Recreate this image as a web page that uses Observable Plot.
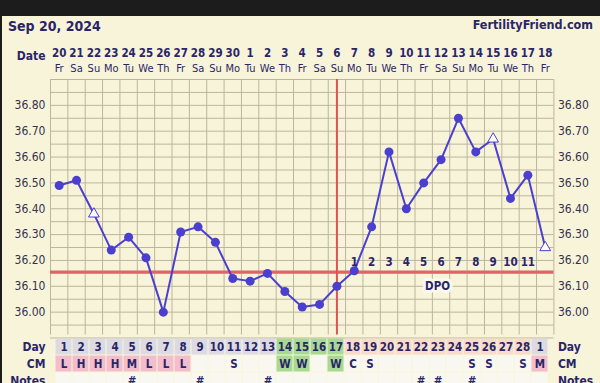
<!DOCTYPE html>
<html><head><meta charset="utf-8">
<script src="https://cdn.jsdelivr.net/npm/d3@7"></script>
<script src="https://cdn.jsdelivr.net/npm/@observablehq/plot@0.6"></script>
<style>
html,body{margin:0;padding:0;background:#1c1c1c;}
#wrap{position:relative;width:600px;height:383px;overflow:hidden;background:#f8f4da;font-family:"DejaVu Sans Condensed","DejaVu Sans",sans-serif;}
#band{position:absolute;left:0;top:0;width:600px;height:16px;background:#1c1c1c;}
#edge{position:absolute;left:0;top:0;width:2px;height:383px;background:#1c1c1c;}
.layer{position:absolute;left:0;top:0;}
#title{position:absolute;left:8px;top:19px;font-weight:bold;font-size:14px;line-height:14px;color:#2a2566;white-space:nowrap;}
#site{position:absolute;right:7px;top:19px;font-weight:bold;font-size:12.5px;line-height:12.5px;color:#2a2566;white-space:nowrap;}
</style></head>
<body>
<div id="wrap">
  <div id="title">Sep 20, 2024</div>
  <div id="site">FertilityFriend.com</div>
  <div id="main" class="layer"></div>
  <div id="table" class="layer"></div>
  <div id="band"></div>
  <div id="edge"></div>
</div>
<script>
// ---- data ----
const dates = [20,21,22,23,24,25,26,27,28,29,30,1,2,3,4,5,6,7,8,9,10,11,12,13,14,15,16,17,18];
const weekdays = ["Fr","Sa","Su","Mo","Tu","We","Th","Fr","Sa","Su","Mo","Tu","We","Th","Fr","Sa","Su","Mo","Tu","We","Th","Fr","Sa","Su","Mo","Tu","We","Th","Fr"];
const cycleDays = [1,2,3,4,5,6,7,8,9,10,11,12,13,14,15,16,17,18,19,20,21,22,23,24,25,26,27,28,1];
const temps = [36.49,36.51,36.38,36.24,36.29,36.21,36.00,36.31,36.33,36.27,36.13,36.12,36.15,36.08,36.02,36.03,36.10,36.16,36.33,36.62,36.40,36.50,36.59,36.75,36.62,36.67,36.44,36.53,36.25];
const discarded = [3,26,29];
const cm = ["L","H","H","H","M","L","L","L","","","S","","","W","W","","W","C","S","","","","","","S","S","","S","M"];
const notes = ["","","","","#","","","","#","","","","#","","","","","","","","","#","#","","#","","","",""];
const phase = ["g","g","g","g","g","g","g","g","g","g","g","g","g","f","f","f","f","l","l","l","l","l","l","l","l","l","l","l","g"];
const dpo = [1,2,3,4,5,6,7,8,9,10,11];
const dpoStart = 18;
const coverline = 36.155;
const ovulationDay = 17;
const yTicks = [36.0,36.1,36.2,36.3,36.4,36.5,36.6,36.7,36.8];
const rowNames = ["Day","CM","Notes"];

// ---- styles ----
const navy = "#2a2566";
const blue = "#4b3fcf";
const gridC = "#bcb59c";
const font = '"DejaVu Sans Condensed","DejaVu Sans",sans-serif';
const dayFill = {g:"#dcdbe4", f:"#a7d993", l:"#f8dccb"};
const cmFill = c => (c==="L"||c==="H"||c==="M") ? "#f3bdcb" : c==="W" ? "#a7d993" : "#f9f8f0";

const idx = d3.range(1, dates.length + 1);
const rows = idx.map((d,i) => ({i:d, date:String(dates[i]), wd:weekdays[i], temp:temps[i], disc:discarded.includes(d)}));
const dpoRows = dpo.map((n,k) => ({i:dpoStart+k, n:String(n)}));
const x0 = 0.5, x1 = dates.length + 0.5;
const yLo = 35.9, yHi = 36.9;

const main = Plot.plot({
  width:600, height:383,
  marginLeft:50, marginRight:46.6, marginTop:79, marginBottom:45.5,
  x:{domain:[x0,x1], axis:null},
  y:{domain:[yLo,yHi], axis:null},
  style:{background:"transparent", fontFamily:font, fontSize:"12px", color:navy, overflow:"visible"},
  marks:[
    Plot.ruleY(d3.range(0,21).map(k => yLo + k*0.05), {x1:x0, x2:x1, stroke:gridC, strokeWidth:1}),
    Plot.ruleX(d3.range(0, dates.length+1).map(k => x0 + k), {y1:yLo, y2:yHi, stroke:gridC, strokeWidth:1, insetTop:-3}),
    Plot.ruleY([coverline], {x1:x0, x2:x1, stroke:"#e06464", strokeWidth:3}),
    Plot.ruleX([ovulationDay], {y1:yLo, y2:yHi, stroke:"#e05252", strokeWidth:2, insetTop:-3}),
    Plot.line(rows, {x:"i", y:"temp", stroke:blue, strokeWidth:2}),
    Plot.dot(rows.filter(d => !d.disc), {x:"i", y:"temp", r:4.5, fill:blue}),
    Plot.dot(rows.filter(d => d.disc), {x:"i", y:"temp", symbol:"triangle", r:4, fill:"#ffffff", stroke:blue, strokeWidth:1}),
    Plot.text(dpoRows, {x:"i", y:() => coverline, dy:-10, text:"n", fontWeight:"bold", fontSize:11.5, fill:navy}),
    Plot.text(["DPO"], {x:() => 22.8, y:() => coverline, dy:14, text:d => d, fontWeight:"bold", fontSize:11.5, fill:navy, stroke:"#fbf9ec", strokeWidth:6}),
    Plot.axisY(yTicks, {anchor:"left", label:null, tickSize:0, tickPadding:5, tickFormat:d => d.toFixed(2), fill:"#34324f", fontSize:12}),
    Plot.axisY(yTicks, {anchor:"right", label:null, tickSize:0, tickPadding:4, tickFormat:d => d.toFixed(2), fill:"#34324f", fontSize:12}),
    Plot.text(rows, {x:"i", frameAnchor:"top", dy:-31, text:"date", fontWeight:"bold", fontSize:11.5, fill:navy}),
    Plot.text(rows, {x:"i", frameAnchor:"top", dy:-15.5, text:"wd", fontSize:11, fill:navy}),
    Plot.text(["Date"], {x:() => x0, frameAnchor:"top", dx:-5, dy:-28, text:d => d, textAnchor:"end", fontWeight:"bold", fontSize:12, fill:navy})
  ]
});
document.getElementById("main").appendChild(main);

const cells = [];
rows.forEach((r,k) => {
  cells.push({i:r.i, row:"Day", fill:dayFill[phase[k]], t:String(cycleDays[k])});
  cells.push({i:r.i, row:"CM", fill:cmFill(cm[k]), t:cm[k]});
  cells.push({i:r.i, row:"Notes", fill:"#f9f8f0", t:notes[k]});
});

const table = Plot.plot({
  width:600, height:383,
  marginLeft:50, marginRight:46.6, marginTop:0, marginBottom:0,
  x:{type:"band", domain:idx, range:[50,553.4], padding:0, axis:null},
  y:{type:"band", domain:rowNames, range:[337.5,389], padding:0, axis:null},
  color:{type:"identity"},
  style:{background:"transparent", fontFamily:font, fontSize:"12px", color:navy, overflow:"visible"},
  marks:[
    Plot.cell(cells, {x:"i", y:"row", fill:"fill", inset:0.5}),
    Plot.text(cells, {x:"i", y:"row", text:"t", fontWeight:"bold", fontSize:11.5, fill:navy}),
    Plot.text(rowNames, {y:d => d, frameAnchor:"left", dx:-5, text:d => d, textAnchor:"end", fontWeight:"bold", fontSize:12, fill:navy}),
    Plot.text(rowNames, {y:d => d, frameAnchor:"right", dx:4, text:d => d, textAnchor:"start", fontWeight:"bold", fontSize:12, fill:navy})
  ]
});
document.getElementById("table").appendChild(table);
</script>
</body></html>
